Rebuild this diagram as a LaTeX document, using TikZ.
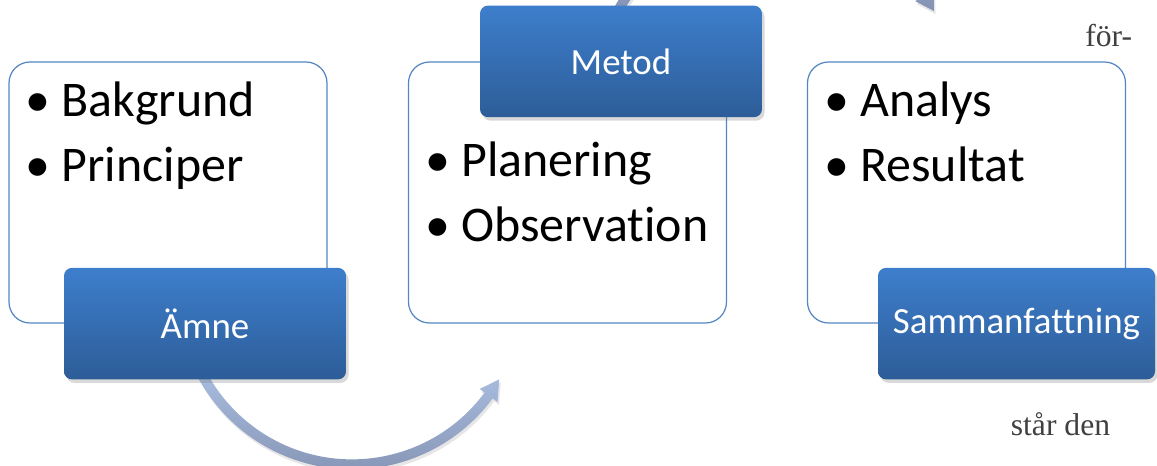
\documentclass[tikz,border=0pt]{standalone}
\usepackage{fontspec}
\setmainfont{Carlito}[Ligatures=NoCommon]
\newfontfamily\notefont{Liberation Serif}
\usepackage{xcolor}
\definecolor{frameblue}{RGB}{84,134,196}
\definecolor{tabtop}{RGB}{61,126,204}
\definecolor{tabbottom}{RGB}{45,93,152}
\definecolor{arrowtop}{RGB}{172,193,228}
\definecolor{arrowbottom}{RGB}{128,142,174}
\definecolor{notegray}{RGB}{64,64,64}
\usetikzlibrary{calc,shadows}

\begin{document}
\begin{tikzpicture}[
    listbox/.style={draw=frameblue, line width=0.7pt, fill=white, rounded corners=0.42cm, minimum width=6.36cm, minimum height=5.22cm},
    tabbox/.style={top color=tabtop, bottom color=tabbottom, rounded corners=0.16cm, minimum width=5.64cm, minimum height=2.23cm, text=white, font=\fontsize{21}{25}\selectfont, drop shadow={opacity=0.3, shadow xshift=0.05cm, shadow yshift=-0.07cm}},
    item/.style={anchor=base west, inner sep=0pt, font=\fontsize{28.4}{34}\selectfont},
    turnarrow/.style={top color=arrowtop, bottom color=arrowbottom, drop shadow={opacity=0.2, shadow xshift=0.03cm, shadow yshift=-0.06cm}},
    note/.style={anchor=base west, inner sep=0pt, text=notegray, font=\notefont\fontsize{18}{22}\selectfont}
]
    \useasboundingbox (0,0) rectangle (23.14,9.32);
    \clip (0,0) rectangle (23.14,9.32);

    % White boxes
    \node[listbox] (amnebox) at (3.36,5.47) {};
    \node[listbox] (metodbox) at (11.35,5.47) {};
    \node[listbox] (sammbox) at (19.33,5.47) {};

    % Bullet lists
    \node[item] (bakgrund) at ([shift={(0.34,-1.10)}]amnebox.north west) {\makebox[0.72cm][l]{\textbullet}Bakgrund};
    \node[item] (principer) at ([shift={(0.34,-2.40)}]amnebox.north west) {\makebox[0.72cm][l]{\textbullet}Principer};
    \node[item] (planering) at ([shift={(0.34,-2.30)}]metodbox.north west) {\makebox[0.72cm][l]{\textbullet}Planering};
    \node[item] (observation) at ([shift={(0.34,-3.60)}]metodbox.north west) {\makebox[0.72cm][l]{\textbullet}Observation};
    \node[item] (analys) at ([shift={(0.34,-1.10)}]sammbox.north west) {\makebox[0.72cm][l]{\textbullet}Analys};
    \node[item] (resultat) at ([shift={(0.34,-2.40)}]sammbox.north west) {\makebox[0.72cm][l]{\textbullet}Resultat};

    % Curved arrows (behind the tabs)
    \coordinate (c1) at ($(amnebox.south)+(3.68,0.585)$);
    \coordinate (c2) at ($(metodbox.north)+(4.17,-0.675)$);
    \path[turnarrow] ($(c1)+(-156:3.5)$) arc[start angle=-156, end angle=-36.5, radius=3.5]
        -- ($(c1)+(-36.5:3.62)$) -- ($(c1)+(-30:3.4)$) -- ($(c1)+(-36.5:3.18)$)
        -- ($(c1)+(-36.5:3.3)$) arc[start angle=-36.5, end angle=-156, radius=3.3] -- cycle;
    \path[turnarrow] ($(c2)+(156:3.68)$) arc[start angle=156, end angle=34, radius=3.68]
        -- ($(c2)+(34:3.8)$) -- ($(c2)+(28:3.58)$) -- ($(c2)+(34:3.36)$)
        -- ($(c2)+(34:3.48)$) arc[start angle=34, end angle=156, radius=3.48] -- cycle;

    % Blue tabs
    \node[tabbox] (amne) at ([xshift=0.74cm]amnebox.south) {Ämne};
    \node[tabbox] (metod) at ([xshift=1.07cm]metodbox.north) {Metod};
    \node[tabbox, minimum width=5.54cm] (samm) at ([xshift=1.0cm]sammbox.south) {Sammanfattning};

    % Running text
    \node[note] (forline) at (21.70,8.39) {för-};
    \node[note] (starline) at (20.21,0.61) {står den};
\end{tikzpicture}
\end{document}
